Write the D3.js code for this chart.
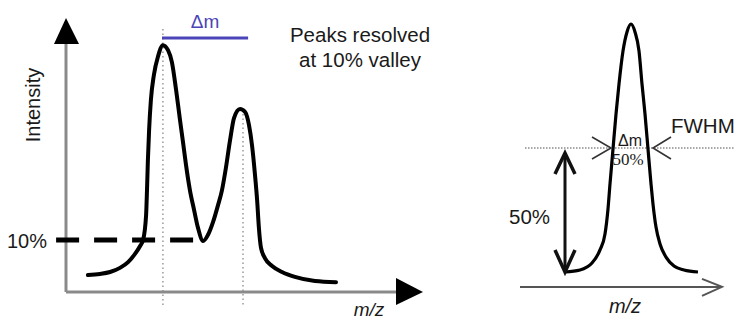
<!DOCTYPE html>
<html>
<head>
<meta charset="utf-8">
<script src="https://cdn.jsdelivr.net/npm/d3@7"></script>
<style>
  body { margin: 0; background: #fff; }
  text { font-family: "Liberation Sans", Arial, sans-serif; fill: #1a1a1a; }
</style>
</head>
<body>
<div id="chart"></div>
<script>
// left panel: two peaks resolved at 10% valley (m/z, intensity)
var twoPeakMz = [507.3, 511.3, 514.7, 518, 520.7, 523, 524.7, 525.7, 526.7, 527, 527.3, 527.7, 528.3, 529.3, 530.7, 532.3,
  534, 535.3, 536.7, 538, 539, 540, 541.3, 542.7, 544, 545.7, 547.3, 549, 550.7, 552, 553.3, 554.7, 556, 558, 559.7,
  561, 562, 563, 563.7, 564.3, 565, 566.3, 568.7, 572, 576.3, 583, 590];
var twoPeakInt = [6.2, 6.6, 7.3, 8.8, 10.9, 13.9, 16.8, 19, 28.1, 37.2, 48.2, 59.1, 70.1, 79.2, 86.1, 90.1,
  88.3, 83.9, 73.7, 62.8, 54.7, 46.4, 37.2, 29.9, 23.4, 18.6, 20.8, 25.5, 31.8, 37.2, 45.3, 55.5, 63.5, 66.8, 65.7,
  60.9, 53.6, 42.7, 33.6, 23.4, 16.1, 12.4, 9.5, 7.3, 5.5, 4.0, 3.6];
var peakCenters = [532.3, 559];
var deltaM = [532, 560.7];
var deltaMLevel = 92.7;
var valleyLevel = 19;
var valleyEnd = 545.7;

// right panel: single peak, FWHM
var peakMz = [422.5, 430, 436, 440, 442.5, 444, 445, 446.5, 448, 449.5, 451.5, 453.5, 455.5,
  457.5, 459.5, 461, 462.5, 464, 465.5, 466.5, 468, 470, 473, 477, 482, 489];
var peakInt = [0, 0.8, 3.6, 8.9, 15.3, 25.4, 35.5, 49.6, 63.7, 75.8, 89.1, 96.8, 100,
  96.8, 89.1, 75.8, 63.7, 49.6, 35.5, 27.4, 18.1, 11.3, 6.0, 2.4, 0.8, 0];
var halfLevel = 50;
var fwhmEdges = [445.5, 466.5];

var width = 735, height = 321;

var svg = d3.select("#chart").append("svg")
  .attr("width", width)
  .attr("height", height);

/* Left scales */
var xL = d3.scaleLinear().domain([500, 619]).range([66, 423]);
var yL = d3.scaleLinear().domain([0, 100]).range([292, 18]);

/* Right scales */
var xR = d3.scaleLinear().domain([400, 500]).range([520, 720]);
var yR = d3.scaleLinear().domain([0, 100]).range([272, 24]);

var left = svg.append("g").attr("class", "left");

// dotted guides at peak centres
left.selectAll(".guide")
  .data(peakCenters).enter()
  .append("line")
  .attr("class", "guide")
  .attr("x1", d => xL(d)).attr("x2", d => xL(d))
  .attr("y1", (d, i) => i == 0 ? yL(96) : yL(65))
  .attr("y2", yL(-4.8))
  .attr("stroke", "#9a9a9a")
  .attr("stroke-width", 1.5)
  .attr("stroke-dasharray", "1.5,3");

// axes
left.append("line")
  .attr("x1", xL(500)).attr("x2", xL(610))
  .attr("y1", yL(0)).attr("y2", yL(0))
  .attr("stroke", "#8a8a8a").attr("stroke-width", 3);
left.append("line")
  .attr("x1", xL(500)).attr("x2", xL(500))
  .attr("y1", yL(0)).attr("y2", yL(91))
  .attr("stroke", "#8a8a8a").attr("stroke-width", 3);

// arrow heads
left.append("path")
  .attr("d", `M${xL(500)},${yL(100)} L${xL(500) - 12},${yL(100) + 26} L${xL(500) + 13},${yL(100) + 26} Z`)
  .attr("fill", "#000");
left.append("path")
  .attr("d", `M${xL(619)},${yL(0)} L${xL(619) - 27},${yL(0) - 14} L${xL(619) - 27},${yL(0) + 13} Z`)
  .attr("fill", "#000");

// 10% valley dashed line
left.append("line")
  .attr("x1", xL(496.7)).attr("x2", xL(valleyEnd))
  .attr("y1", yL(valleyLevel)).attr("y2", yL(valleyLevel))
  .attr("stroke", "#000").attr("stroke-width", 5)
  .attr("stroke-dasharray", "23,15");

// spectrum
var lineL = d3.line()
  .x(d => xL(d[0]))
  .y(d => yL(d[1]))
  .curve(d3.curveMonotoneX);

left.append("path")
  .datum(d3.zip(twoPeakMz, twoPeakInt))
  .attr("d", lineL)
  .attr("fill", "none")
  .attr("stroke", "#000")
  .attr("stroke-width", 4)
  .attr("stroke-linejoin", "round")
  .attr("stroke-linecap", "round");

// delta m bar
left.append("line")
  .attr("x1", xL(deltaM[0])).attr("x2", xL(deltaM[1]))
  .attr("y1", yL(deltaMLevel)).attr("y2", yL(deltaMLevel))
  .attr("stroke", "#4b44b8").attr("stroke-width", 3);
left.append("text")
  .attr("x", xL((deltaM[0] + deltaM[1]) / 2)).attr("y", 28)
  .attr("text-anchor", "middle")
  .style("font-size", "19px").style("fill", "#4b44b8")
  .text("Δm");

// labels
left.append("text")
  .attr("transform", "translate(40,105) rotate(-90)")
  .attr("text-anchor", "middle")
  .style("font-size", "20px")
  .text("Intensity");
left.append("text")
  .attr("x", 47).attr("y", yL(valleyLevel) + 8)
  .attr("text-anchor", "end")
  .style("font-size", "20px")
  .text("10%");
left.append("text")
  .attr("x", 360).attr("y", 42)
  .attr("text-anchor", "middle")
  .style("font-size", "20.5px")
  .text("Peaks resolved");
left.append("text")
  .attr("x", 360).attr("y", 67)
  .attr("text-anchor", "middle")
  .style("font-size", "20.5px")
  .text("at 10% valley");
left.append("text")
  .attr("x", 369).attr("y", 316)
  .attr("text-anchor", "middle")
  .style("font-size", "19px").style("font-style", "italic")
  .text("m/z");

/* Right panel */
var right = svg.append("g").attr("class", "right");

// half-height dotted line
right.append("line")
  .attr("x1", 525).attr("x2", width)
  .attr("y1", yR(halfLevel)).attr("y2", yR(halfLevel))
  .attr("stroke", "#8a8a8a").attr("stroke-width", 1.5)
  .attr("stroke-dasharray", "1.5,1.5");

// x axis with open arrow
right.append("line")
  .attr("x1", xR(400)).attr("x2", xR(501))
  .attr("y1", yR(-6)).attr("y2", yR(-6))
  .attr("stroke", "#555").attr("stroke-width", 2);
right.append("path")
  .attr("d", `M${xR(501) - 20},${yR(-6) - 8} L${xR(501)},${yR(-6)} L${xR(501) - 20},${yR(-6) + 9}`)
  .attr("fill", "none").attr("stroke", "#555").attr("stroke-width", 2);

var lineR = d3.line()
  .x(d => xR(d[0]))
  .y(d => yR(d[1]))
  .curve(d3.curveMonotoneX);

right.append("path")
  .datum(d3.zip(peakMz, peakInt))
  .attr("d", lineR)
  .attr("fill", "none")
  .attr("stroke", "#000")
  .attr("stroke-width", 3.2)
  .attr("stroke-linejoin", "round");

// FWHM chevrons
var hy = yR(halfLevel);
right.append("path")
  .attr("d", `M${xR(fwhmEdges[0]) - 19},${hy - 11} L${xR(fwhmEdges[0])},${hy} L${xR(fwhmEdges[0]) - 19},${hy + 11}`)
  .attr("fill", "none").attr("stroke", "#333").attr("stroke-width", 1.6);
right.append("path")
  .attr("d", `M${xR(fwhmEdges[1]) + 18},${hy - 11} L${xR(fwhmEdges[1])},${hy} L${xR(fwhmEdges[1]) + 18},${hy + 11}`)
  .attr("fill", "none").attr("stroke", "#333").attr("stroke-width", 1.6);

// 50% double arrow
var ax = xR(peakMz[0]);
right.append("line")
  .attr("x1", ax).attr("x2", ax)
  .attr("y1", yR(halfLevel) + 5).attr("y2", yR(0))
  .attr("stroke", "#111").attr("stroke-width", 3);
right.append("path")
  .attr("d", `M${ax - 10},${yR(halfLevel) + 26} L${ax},${yR(halfLevel) + 5} L${ax + 10},${yR(halfLevel) + 26}`)
  .attr("fill", "none").attr("stroke", "#111").attr("stroke-width", 3.5);
right.append("path")
  .attr("d", `M${ax - 10},${yR(0) - 22} L${ax},${yR(0)} L${ax + 10},${yR(0) - 22}`)
  .attr("fill", "none").attr("stroke", "#111").attr("stroke-width", 3.5);

// labels
right.append("text")
  .attr("x", 630).attr("y", hy - 2)
  .attr("text-anchor", "middle")
  .style("font-size", "16px")
  .text("Δm");
right.append("text")
  .attr("x", 628).attr("y", hy + 17)
  .attr("text-anchor", "middle")
  .style("font-size", "17px").style("font-family", "'Liberation Serif', 'Times New Roman', serif")
  .text("50%");
right.append("text")
  .attr("x", 671).attr("y", 133)
  .style("font-size", "20.5px")
  .text("FWHM");
right.append("text")
  .attr("x", 509).attr("y", 224)
  .style("font-size", "20.5px")
  .text("50%");
right.append("text")
  .attr("x", 625).attr("y", 313)
  .attr("text-anchor", "middle")
  .style("font-size", "20px").style("font-style", "italic")
  .text("m/z");
</script>
</body>
</html>
